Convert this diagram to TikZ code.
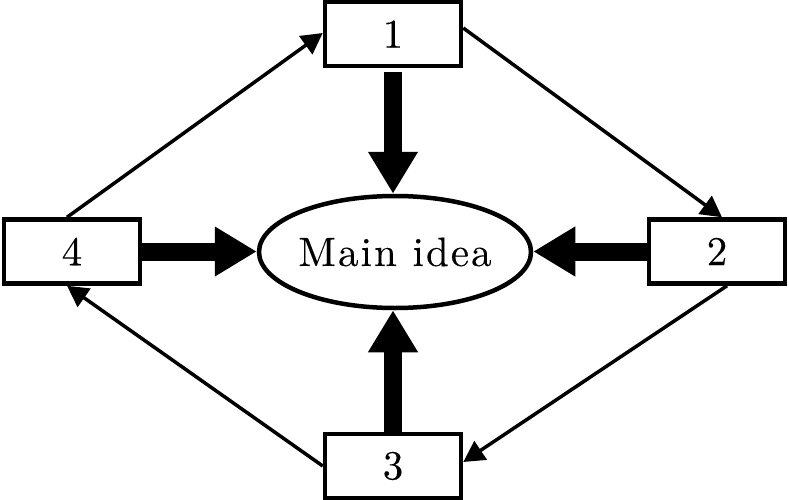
\documentclass[tikz,border=0pt]{standalone}
\usepackage{fontspec}
\newfontfamily\lblfont{lmroman10-regular.otf}[LetterSpace=5,FakeBold=0.2]
\usetikzlibrary{arrows.meta,shapes.geometric}
\tikzset{
  lbl/.style={font=\lblfont\fontsize{41}{50}\selectfont},
  numbox/.style={lbl, draw=black, line width=4.5pt, minimum width=136pt, minimum height=64pt, inner sep=0pt},
  idea/.style={lbl, draw=black, line width=4.5pt, ellipse, minimum width=272pt, minimum height=112pt, inner xsep=-4pt, inner ysep=0pt},
  bigarrow/.style={line width=18pt, -{Triangle[length=42pt,width=47pt]}},
  thinarrow/.style={line width=3.5pt, -{Triangle[length=21pt,width=22pt]}},
}
\begin{document}
\begin{tikzpicture}[x=1pt,y=-1pt]
\useasboundingbox (0,0) rectangle (789,500);
\node[numbox] (b1) at (393,34) {1};
\node[numbox] (b2) at (717,251.5) {2};
\node[numbox] (b3) at (393,466) {3};
\node[numbox] (b4) at (72,251.5) {4};
\node[idea] (e) at (395,252) {Main idea};
\draw[bigarrow, shorten <=4pt] (b1.south) -- (b1.south |- e.north);
\draw[bigarrow] (b4.east) -- (e.west |- b4.east);
\draw[bigarrow] (b2.west) -- (e.east |- b2.west);
\draw[bigarrow] (b3.north) -- (b3.north |- e.south);
\draw[thinarrow] ([xshift=-5pt]b4.north) -- ([yshift=1pt]b1.west);
\draw[thinarrow] ([yshift=6pt]b1.east) -- ([xshift=5pt]b2.north);
\draw[thinarrow] ([xshift=10pt]b2.south) -- ([yshift=4pt]b3.east);
\draw[thinarrow] (b3.west) -- ([xshift=-5pt]b4.south);
\end{tikzpicture}
\end{document}
